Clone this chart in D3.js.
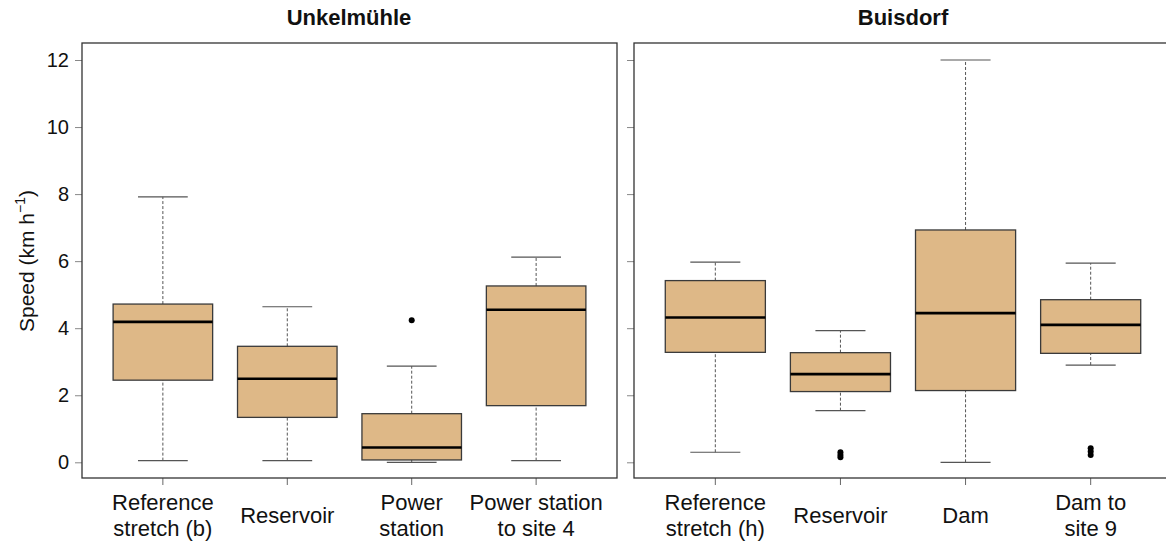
<!DOCTYPE html>
<html>
<head>
<meta charset="utf-8">
<script src="https://cdn.jsdelivr.net/npm/d3@7"></script>
<style>
  body { margin: 0; background: #fff; }
  svg { display: block; font-family: "Liberation Sans", Arial, sans-serif; }
</style>
</head>
<body>
<svg id="chart" width="1166" height="542"></svg>
<script>
// ── data ──────────────────────────────────────────────────
const panelTitles = ['Unkelmühle', 'Buisdorf'];

const labelsUnkel = [['Reference', 'stretch (b)'], ['Reservoir'], ['Power', 'station'], ['Power station', 'to site 4']];
const labelsBuis  = [['Reference', 'stretch (h)'], ['Reservoir'], ['Dam'], ['Dam to', 'site 9']];

// [lower whisker, Q1, median, Q3, upper whisker]
const statsUnkel = [
  [0.05, 2.45, 4.19, 4.72, 7.92],
  [0.05, 1.34, 2.49, 3.46, 4.64],
  [0.00, 0.07, 0.44, 1.45, 2.87],
  [0.05, 1.69, 4.55, 5.26, 6.12]
];
const statsBuis = [
  [0.30, 3.28, 4.32, 5.42, 5.97],
  [1.54, 2.11, 2.63, 3.27, 3.93],
  [0.00, 2.14, 4.45, 6.93, 12.0],
  [2.90, 3.25, 4.10, 4.85, 5.94]
];
const outliersUnkel = [[], [], [4.24], []];
const outliersBuis  = [[], [0.30, 0.22, 0.15], [], [0.42, 0.32, 0.22]];

const yTicks = [0, 2, 4, 6, 8, 10, 12];

// ── layout ────────────────────────────────────────────────
const svg = d3.select('#chart');
const frameTop = 43, frameBottom = 478;
const panels = [
  { x0: 82,  x1: 617,  title: panelTitles[0], labels: labelsUnkel, stats: statsUnkel, out: outliersUnkel, titleX: 349, axisLabels: true },
  { x0: 634, x1: 1172, title: panelTitles[1], labels: labelsBuis,  stats: statsBuis,  out: outliersBuis,  titleX: 903, axisLabels: false }
];

const y = d3.scaleLinear().domain([0, 12]).range([462.3, 60]);

const fill = '#DEB887';
const boxStroke = '#3a3a3a';

panels.forEach(p => {
  const x = d3.scaleLinear().domain([0.35, 4.65]).range([p.x0, p.x1]);
  const unit = x(1) - x(0);
  const boxW = unit * 0.8;
  const capW = unit * 0.4;
  const g = svg.append('g');

  // y axis ticks
  g.append('g')
    .attr('transform', `translate(${p.x0},0)`)
    .call(d3.axisLeft(y).tickValues(yTicks).tickSize(7).tickPadding(6)
      .tickFormat(p.axisLabels ? d3.format('d') : ''))
    .call(a => a.select('.domain').remove())
    .call(a => a.selectAll('line').attr('stroke', '#888'))
    .call(a => a.selectAll('text').attr('font-size', 20).attr('fill', '#111')
      .attr('font-family', '"Liberation Sans", Arial, sans-serif'));

  // x axis ticks
  const positions = p.stats.map((d, i) => i + 1);
  g.selectAll('.xt').data(positions).enter().append('line')
    .attr('x1', d => x(d)).attr('x2', d => x(d))
    .attr('y1', frameBottom).attr('y2', frameBottom + 7)
    .attr('stroke', '#666').attr('stroke-width', 1);

  // x labels
  p.labels.forEach((lines, i) => {
    const t = g.append('text')
      .attr('x', x(i + 1))
      .attr('text-anchor', 'middle')
      .attr('font-size', 22)
      .attr('fill', '#111');
    const y0 = lines.length === 1 ? 523 : 510;
    lines.forEach((ln, k) => {
      t.append('tspan').attr('x', x(i + 1)).attr('y', y0 + k * 26).text(ln);
    });
  });

  // boxes
  p.stats.forEach((s, i) => {
    const cx = x(i + 1);
    const [lo, q1, med, q3, hi] = s;
    // whiskers (dashed)
    [[lo, q1], [q3, hi]].forEach(([a, b]) => {
      g.append('line')
        .attr('x1', cx).attr('x2', cx)
        .attr('y1', y(a)).attr('y2', y(b))
        .attr('stroke', '#555').attr('stroke-width', 1)
        .attr('stroke-dasharray', '3,2');
    });
    // caps
    [lo, hi].forEach(v => {
      g.append('line')
        .attr('x1', cx - capW / 2).attr('x2', cx + capW / 2)
        .attr('y1', y(v)).attr('y2', y(v))
        .attr('stroke', '#555').attr('stroke-width', 1.2);
    });
    // box
    g.append('rect')
      .attr('x', cx - boxW / 2).attr('y', y(q3))
      .attr('width', boxW).attr('height', y(q1) - y(q3))
      .attr('fill', fill)
      .attr('stroke', boxStroke).attr('stroke-width', 1.3);
    // median
    g.append('line')
      .attr('x1', cx - boxW / 2).attr('x2', cx + boxW / 2)
      .attr('y1', y(med)).attr('y2', y(med))
      .attr('stroke', '#000').attr('stroke-width', 2.6);
    // outliers
    g.selectAll(null).data(p.out[i]).enter().append('circle')
      .attr('cx', cx).attr('cy', d => y(d))
      .attr('r', 3).attr('fill', '#000');
  });

  // frame
  g.append('rect')
    .attr('x', p.x0).attr('y', frameTop)
    .attr('width', p.x1 - p.x0).attr('height', frameBottom - frameTop)
    .attr('fill', 'none').attr('stroke', '#333').attr('stroke-width', 1.3);

  // title
  g.append('text')
    .attr('x', p.titleX).attr('y', 25)
    .attr('text-anchor', 'middle')
    .attr('font-size', 22).attr('font-weight', 'bold')
    .attr('fill', '#111')
    .text(p.title);
});

// y-axis label
const yl = svg.append('text')
  .attr('transform', 'translate(34,261) rotate(-90)')
  .attr('text-anchor', 'middle')
  .attr('font-size', 21)
  .attr('fill', '#111');
yl.append('tspan').text('Speed (km h');
yl.append('tspan').attr('font-size', 14).attr('dy', -9).text('−1');
yl.append('tspan').attr('dy', 9).text(')');
</script>
</body>
</html>
